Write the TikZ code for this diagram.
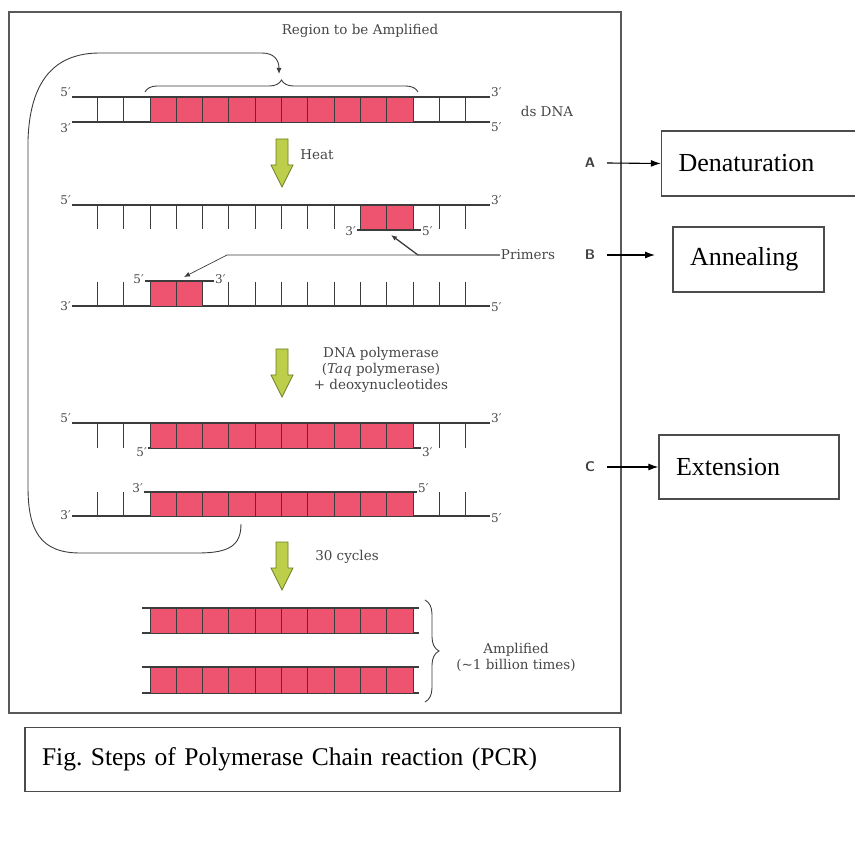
\documentclass[tikz,border=0pt]{standalone}
\usepackage{fontspec}
\newfontfamily\figfont{DejaVu Serif}
\newfontfamily\boxfont{Liberation Serif}
\usetikzlibrary{arrows.meta,decorations.pathreplacing}

\definecolor{pcrred}{RGB}{238,84,112}
\definecolor{pcrgreen}{RGB}{188,206,74}
\definecolor{pcrolive}{RGB}{110,126,36}
\definecolor{strandgray}{RGB}{60,60,60}
\definecolor{labelgray}{RGB}{70,70,70}

% Gruener Pfeil nach unten, #1 = x, #2 = y oben.
\newcommand{\pcrarrow}[2]{%
  \draw[greenarrow] (#1-6,#2) -- (#1+6,#2) -- (#1+6,#2+26) -- (#1+11,#2+26)
    -- (#1,#2+48) -- (#1-11,#2+26) -- (#1-6,#2+26) -- cycle;}

\begin{document}
\begin{tikzpicture}[x=1pt,y=-1pt]
  \useasboundingbox (0,0) rectangle (855,842);
  \clip (0,0) rectangle (855,842);

  \tikzstyle{strand}=[color=strandgray, line width=1.1pt]
  \tikzstyle{rung}=[color=strandgray, line width=1pt]
  \tikzstyle{cell}=[draw=strandgray, line width=0.9pt, fill=pcrred]
  \tikzstyle{greenarrow}=[draw=pcrolive, line width=0.8pt, fill=pcrgreen]
  \tikzstyle{lbl}=[font=\figfont\fontsize{13.5}{16}\selectfont, text=labelgray, inner sep=1pt]
  \tikzstyle{end}=[font=\figfont\fontsize{12}{14}\selectfont, text=labelgray, inner sep=1pt]
  \tikzstyle{tag}=[font=\sffamily\bfseries\fontsize{14}{16}\selectfont, text=black!75]
  \tikzstyle{stepbox}=[draw=black!70, line width=1.3pt, minimum height=65, inner xsep=17,
    align=left, font=\boxfont\fontsize{26}{30}\selectfont]
  \tikzstyle{tagarrow}=[line width=1.1pt, -{Latex[length=10pt,width=7pt]}]

  % Rahmen.
  \draw[color=black!65, line width=2pt] (9,12) rectangle (621,713);
  \node[stepbox, minimum height=64, text width=561, font=\boxfont\fontsize{25.5}{30}\selectfont]
    (caption) at (322.5,759.5) {Fig.\ Steps of Polymerase Chain reaction (PCR)};

  % Region.
  \node[lbl] (region) at (360,31) {Region to be Amplified};
  \draw[line width=0.9pt, color=strandgray, decorate, decoration={brace, amplitude=12pt}]
    (145,92) -- (418,92);

  % Zyklus.
  \draw[line width=0.9pt, color=strandgray, -{Latex[length=6pt,width=5pt]}]
    (241,524) .. controls (241,545) and (230,553) .. (198,553) -- (80,553)
    .. controls (40,553) and (28,530) .. (28,487) -- (28,140)
    .. controls (30,80) and (55,53) .. (100,53) -- (262,53)
    .. controls (274,53) and (279,60) .. (279,74);

  % ds DNA.
  \draw[strand] (72,97) -- (490,97);
  \draw[strand] (72,122) -- (490,122);
  \foreach \k in {-2,-1,11,12} \draw[rung] (150+\k*26.3,97) -- ++(0,25);
  \foreach \k in {0,...,9} \draw[cell] (150+\k*26.3,97) rectangle ++(26.3,25);
  \node[end, anchor=south east] (a5) at (72,98) {5′};
  \node[end, anchor=north east] (a3) at (72,122) {3′};
  \node[end, anchor=south west] (b3) at (490,98) {3′};
  \node[end, anchor=north west] (b5) at (490,122) {5′};
  \node[lbl] (dsdna) at (547,111) {ds DNA};

  % Heat.
  \pcrarrow{282}{139}
  \node[lbl] (heat) at (317,155) {Heat};

  % Einzelstrang oben mit Primer.
  \draw[strand] (72,205) -- (490,205);
  \foreach \k in {-2,...,7,11,12} \draw[rung] (150+\k*26.3,205) -- ++(0,24);
  \foreach \k in {8,9} \draw[cell] (150+\k*26.3,205) rectangle ++(26.3,25);
  \draw[strand] (357,230) -- (421,230);
  \node[end, anchor=south east] (c5) at (72,206) {5′};
  \node[end, anchor=south west] (c3) at (490,206) {3′};
  \node[end, anchor=east] (p3) at (357,231) {3′};
  \node[end, anchor=west] (p5) at (421,231) {5′};

  % Primers.
  \node[lbl] (primers) at (528,255) {Primers};
  \coordinate (split) at (418,255);
  \coordinate (knee) at (227,255);
  \coordinate (primerup) at (391,235);
  \coordinate (primerlow) at (184,277);
  \draw[color=strandgray, line width=1.3pt, -{Latex[length=6pt,width=5pt]}]
    (primers.west) -- (split) -- (primerup);
  \draw[color=strandgray, line width=0.7pt, -{Latex[length=6pt,width=5pt]}]
    (split) -- (knee) -- (primerlow);

  % Einzelstrang unten mit Primer.
  \draw[strand] (72,306) -- (490,306);
  \foreach \k in {-2,-1,3,4,5,6,7,8,9,10,11,12} \draw[rung] (150+\k*26.3,306) -- ++(0,-24);
  \foreach \k in {0,1} \draw[cell] (150+\k*26.3,306) rectangle ++(26.3,-25);
  \draw[strand] (145,281) -- (214,281);
  \node[end, anchor=east] (q5) at (145,279) {5′};
  \node[end, anchor=west] (q3) at (214,279) {3′};
  \node[end, anchor=east] (d3) at (72,306) {3′};
  \node[end, anchor=west] (d5) at (490,307) {5′};

  % Polymerase.
  \pcrarrow{282}{349}
  \node[lbl, align=center] (taq) at (381,370)
    {DNA polymerase\\({\itshape Taq} polymerase)\\+ deoxynucleotides};

  % Verlaengerung oben.
  \draw[strand] (72,423) -- (490,423);
  \draw[strand] (148,448) -- (421,448);
  \foreach \k in {-2,-1,11,12} \draw[rung] (150+\k*26.3,423) -- ++(0,25);
  \foreach \k in {0,...,9} \draw[cell] (150+\k*26.3,423) rectangle ++(26.3,25);
  \node[end, anchor=south east] (e5) at (72,424) {5′};
  \node[end, anchor=south west] (e3) at (490,424) {3′};
  \node[end, anchor=north east] (f5) at (148,447) {5′};
  \node[end, anchor=north west] (f3) at (421,446) {3′};

  % Verlaengerung unten.
  \draw[strand] (144,492) -- (417,492);
  \draw[strand] (72,516) -- (490,516);
  \foreach \k in {-2,-1,11,12} \draw[rung] (150+\k*26.3,516) -- ++(0,-24);
  \foreach \k in {0,...,9} \draw[cell] (150+\k*26.3,492) rectangle ++(26.3,24);
  \node[end, anchor=south east] (g3) at (144,494) {3′};
  \node[end, anchor=south west] (g5) at (417,494) {5′};
  \node[end, anchor=east] (h3) at (72,515) {3′};
  \node[end, anchor=west] (h5) at (490,518) {5′};

  % 30 Zyklen.
  \pcrarrow{282}{542}
  \node[lbl] (cycles) at (347,557) {30 cycles};

  % Amplifiziert.
  \draw[strand] (142,608) -- (419,608);
  \draw[strand] (142,633) -- (419,633);
  \draw[strand] (142,667) -- (419,667);
  \draw[strand] (142,693) -- (419,693);
  \foreach \k in {0,...,9} \draw[cell] (150+\k*26.3,608) rectangle ++(26.3,25);
  \foreach \k in {0,...,9} \draw[cell] (150+\k*26.3,667) rectangle ++(26.3,26);
  \draw[line width=0.9pt, color=strandgray, decorate, decoration={brace, amplitude=14pt}]
    (425,600) -- (425,702);
  \node[lbl, align=center] (amplified) at (516,657) {Amplified\\(\textasciitilde1 billion times)};

  % Schritte.
  \node[tag] (A) at (590,163) {A};
  \node[tag] (B) at (590,255) {B};
  \node[tag] (C) at (590,467) {C};
  \node[stepbox, text width=195] (denat) at (776,163.5) {Denaturation};
  \node[stepbox, text width=117] (anneal) at (748.5,259.5) {Annealing};
  \node[stepbox, minimum height=64, text width=146] (ext) at (749,467) {Extension};
  \coordinate (btip) at (655,255);
  \draw[tagarrow] (607,163) -- (denat.west);
  \draw[tagarrow] (607,255) -- (btip);
  \draw[tagarrow] (607,467) -- (ext.west);
\end{tikzpicture}
\end{document}
